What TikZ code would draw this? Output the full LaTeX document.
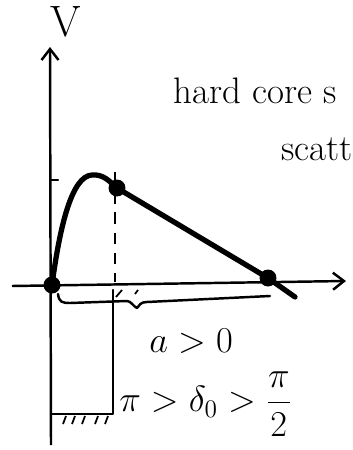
\documentclass[tikz,border=0pt]{standalone}
\usetikzlibrary{arrows.meta}
\tikzset{
  osa/.style={line width=1.4pt,-{Straight Barb[length=2.2mm,width=3.4mm]}},
  kriva/.style={line width=3pt,line cap=round,line join=round},
  tanka/.style={line width=1.4pt,line cap=round,line join=round},
  tacka/.style={circle,fill=black,inner sep=0pt,minimum size=3.4mm},
  natpis/.style={font=\fontsize{21}{25}\selectfont,inner sep=0pt},
}

\begin{document}
\begin{tikzpicture}[x=0.02cm,y=-0.02cm]
  \useasboundingbox (0,0) rectangle (352,450);

  % ---------- OSE ----------
  \draw[osa] (51,445) -- (50,47);
  \draw[osa] (12,286) -- (346,281);
  \node[natpis,font=\fontsize{25}{30}\selectfont] (lv) at (66,22) {V};
  \draw[tanka] (51,180) -- (58,180);

  % ---------- KRIVA ----------
  \node[tacka] (t0) at (52,285) {};
  \node[tacka] (t1) at (117,188) {};
  \node[tacka] (t2) at (268,278) {};
  \draw[kriva] (t0.center) .. controls (60,225) and (72,176) .. (92,175)
               .. controls (104,174) and (110,182) .. (t1.center);
  \draw[kriva] (t1.center) -- (t2.center) -- (295,297);
  \draw[line width=1.1pt,dash pattern=on 6.5pt off 5pt] (115,172) -- (115,282);

  % ---------- JAMA ----------
  \draw[tanka] (113,290) -- (113,414) -- (51,414);
  \foreach \x in {66,75,85,98,108}
    \draw[line width=1pt] (\x,416) -- (\x-3,424);
  \draw[line width=1pt] (116,297) -- (122,290);
  \draw[line width=1pt] (135,294) -- (138,290);

  % ---------- ZAGRADA ----------
  \draw[tanka] (58,294) .. controls (59,302) and (62,303) .. (70,303) -- (127,301)
               .. controls (131,301) and (134,307) .. (137,308)
               .. controls (139,305) and (141,302) .. (147,302) -- (270,296);

  % ---------- NATPISI ----------
  \node[natpis,anchor=base west] (lhc) at (173,103) {hard core s};
  \node[natpis,anchor=base west] (lsc) at (281,160) {scatt};
  \node[natpis] (la) at (191,341) {$a>0$};
  \node[natpis,anchor=west] (ld) at (119,404)
       {$\displaystyle\pi>\delta_0>\frac{\pi}{2}$};

\end{tikzpicture}
\end{document}
